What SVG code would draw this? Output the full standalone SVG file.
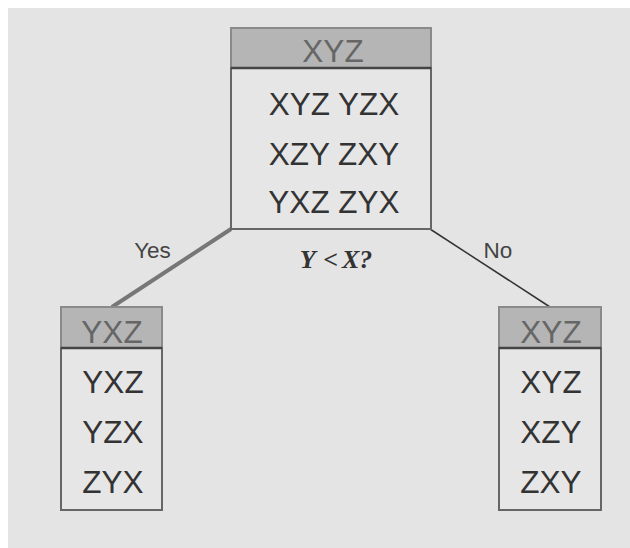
<svg xmlns="http://www.w3.org/2000/svg" width="630" height="548" viewBox="0 0 630 548">
<style>
.hd{fill:#b5b5b5;stroke:#8a8a8a;stroke-width:2}
.bd{fill:#e6e6e6;stroke:#666;stroke-width:2}
.sep{stroke:#444;stroke-width:2.5}
.ht{font-family:"Liberation Sans",Arial,sans-serif;font-size:31.5px;fill:#666;text-anchor:middle}
.t{font-family:"Liberation Sans",Arial,sans-serif;font-size:31.5px;fill:#333;text-anchor:middle}
.lb{font-family:"Liberation Sans",Arial,sans-serif;font-size:22.5px;fill:#444;text-anchor:middle}
</style>
<rect x="0" y="0" width="630" height="548" fill="#fff"/>
<rect x="8" y="8" width="622" height="540" fill="#e4e4e4"/>
<g id="connectors">
<line x1="231" y1="229" x2="112" y2="307" stroke="#777" stroke-width="4"/>
<line x1="430" y1="229" x2="550" y2="307" stroke="#333" stroke-width="1.5"/>
<text class="lb" x="152.5" y="258">Yes</text>
<text class="lb" x="498" y="258">No</text>
<text x="336" y="268" font-family="'Liberation Serif','Times New Roman',serif" font-size="26" font-weight="bold" font-style="italic" fill="#333" text-anchor="middle">Y <tspan dx="2">&lt;</tspan><tspan dx="4">X?</tspan></text>
</g>
<g id="root">
<rect class="hd" x="231" y="28" width="200" height="40"/>
<rect class="bd" x="231" y="68" width="200" height="161"/>
<line class="sep" x1="231" y1="68" x2="431" y2="68"/>
<text class="ht" x="333" y="62">XYZ</text>
<text class="t" x="334" y="115">XYZ YZX</text>
<text class="t" x="334" y="165">XZY ZXY</text>
<text class="t" x="334" y="213">YXZ ZYX</text>
</g>
<g id="yes-node">
<rect class="hd" x="61" y="307" width="101" height="41"/>
<rect class="bd" x="61" y="348" width="101" height="162"/>
<line class="sep" x1="61" y1="348" x2="162" y2="348"/>
<text class="ht" x="112" y="343">YXZ</text>
<text class="t" x="113" y="393">YXZ</text>
<text class="t" x="113" y="443">YZX</text>
<text class="t" x="113" y="493">ZYX</text>
</g>
<g id="no-node">
<rect class="hd" x="499" y="307" width="102" height="41"/>
<rect class="bd" x="499" y="348" width="102" height="162"/>
<line class="sep" x1="499" y1="348" x2="601" y2="348"/>
<text class="ht" x="551" y="343">XYZ</text>
<text class="t" x="551" y="393">XYZ</text>
<text class="t" x="551" y="443">XZY</text>
<text class="t" x="551" y="493">ZXY</text>
</g>
</svg>
